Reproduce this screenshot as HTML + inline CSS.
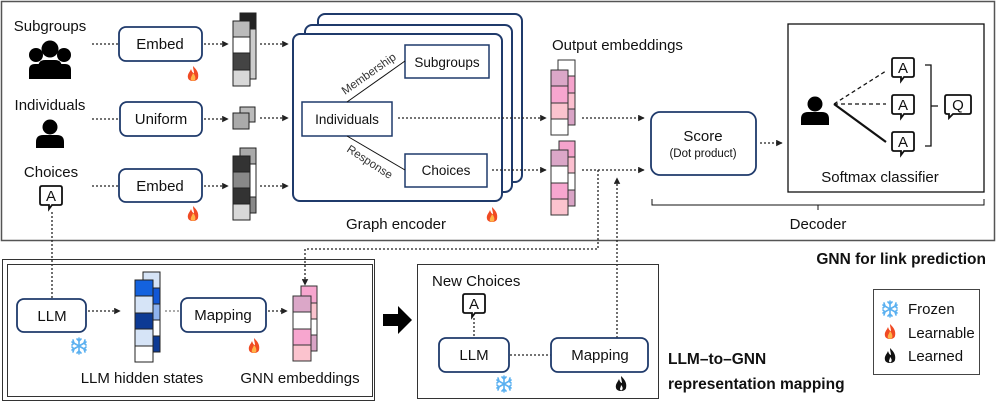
<!DOCTYPE html>
<html><head><meta charset="utf-8"><style>
html,body{margin:0;padding:0;background:#fff;}
svg{display:block;font-family:"Liberation Sans",sans-serif;}
</style></head><body>
<svg width="997" height="404" viewBox="0 0 997 404" xmlns="http://www.w3.org/2000/svg">
<defs>
<marker id="ah" viewBox="0 0 10 10" refX="9" refY="5" markerWidth="5" markerHeight="5" orient="auto"><path d="M0,0L10,5L0,10z" fill="#222"/></marker>
<g id="flame"><path d="M0,-9 C4,-5 6,-2 5,3 C4,7 -4,7 -5,3 C-6,-1 -3,-3 -2,-6 C-1,-3 0,-2 1,-2 C1,-4 0,-6 0,-9z" fill="#f04a23"/><path d="M0,-2 C2,0 3,3 2,5 C1,6 -1,6 -2,5 C-3,3 -1,1 0,-2z" fill="#ffb347"/></g>
<g id="bflame"><path d="M0,-9 C4,-5 6,-2 5,3 C4,7 -4,7 -5,3 C-6,-1 -3,-3 -2,-6 C-1,-3 0,-2 1,-2 C1,-4 0,-6 0,-9z" fill="#111"/><path d="M0,0 C2,2 2,4 1,5 C0,6 -1,5 -1,4 C-1,3 0,2 0,0z" fill="#fff"/></g>
<g id="snow" stroke="#5ab0f0" stroke-width="1.6" stroke-linecap="round"><path d="M0,-8V8M-7,-4L7,4M-7,4L7,-4"/><path d="M-2,-7L0,-5L2,-7M-2,7L0,5L2,7M-7,-1L-5,-3L-6,-6M7,1L5,3L6,6M-7,1L-5,3L-6,6M7,-1L5,-3L6,-6" fill="none"/></g>
<g id="bubA"><path d="M-9,-11H9Q11,-11 11,-9V6Q11,8 9,8H1L-2,12V8H-9Q-11,8 -11,6V-9Q-11,-11 -9,-11z" fill="#fff" stroke="#111" stroke-width="1.8"/><text x="0" y="4" font-size="15" text-anchor="middle" fill="#111">A</text></g>
<g id="person"><circle cx="0" cy="-8" r="7.5" fill="#000"/><path d="M-14,13V7Q-14,0 -7,0H7Q14,0 14,7V13z" fill="#000"/></g>
</defs>

<rect x="1.5" y="1.5" width="993" height="239" fill="none" stroke="#555" stroke-width="1.5"/>

<g font-size="15" fill="#111" text-anchor="middle">
<text x="50" y="31">Subgroups</text>
<text x="50" y="110">Individuals</text>
<text x="51" y="177">Choices</text>
</g>
<g fill="#000">
<circle cx="36" cy="55" r="7"/><circle cx="64" cy="55" r="7"/><circle cx="50" cy="49" r="8.5"/>
<path d="M29,79V70Q29,64 35,64H41V79z"/><path d="M59,79V64H65Q71,64 71,70V79z"/>
<path d="M38,79V68Q38,60 45,60H55Q62,60 62,68V79z"/>
</g>
<use href="#person" transform="translate(50,135)"/>
<use href="#bubA" transform="translate(51,197)"/>

<g stroke="#222" stroke-width="1.3" stroke-dasharray="2,2" fill="none">
<line x1="92" y1="44" x2="119" y2="44"/>
<line x1="92" y1="119" x2="120" y2="119"/>
<line x1="92" y1="186" x2="119" y2="186"/>
<line x1="204" y1="44" x2="228" y2="44" marker-end="url(#ah)"/>
<line x1="204" y1="119" x2="228" y2="119" marker-end="url(#ah)"/>
<line x1="204" y1="186" x2="228" y2="186" marker-end="url(#ah)"/>
<line x1="260" y1="44" x2="288" y2="44" marker-end="url(#ah)"/>
<line x1="260" y1="118" x2="288" y2="118" marker-end="url(#ah)"/>
<line x1="260" y1="186" x2="288" y2="186" marker-end="url(#ah)"/>
<line x1="52" y1="212" x2="52" y2="299"/>
</g>
<g fill="#fff" stroke="#1f3a6b" stroke-width="1.8">
<rect x="119" y="27" width="83" height="34" rx="7"/>
<rect x="120" y="102" width="82" height="34" rx="7"/>
<rect x="119" y="169" width="83" height="33" rx="7"/>
</g>
<g font-size="15" fill="#111" text-anchor="middle">
<text x="160" y="49">Embed</text><text x="161" y="124">Uniform</text><text x="160" y="191">Embed</text>
</g>
<use href="#flame" transform="translate(193,75)"/>
<use href="#flame" transform="translate(193,215)"/>

<g stroke="#222" stroke-width="1">
<rect x="240" y="13" width="16" height="66" fill="#ccc"/>
<rect x="240" y="13" width="16" height="16" fill="#222"/>
<rect x="233" y="21" width="17" height="16" fill="#bbb"/>
<rect x="233" y="37" width="17" height="16" fill="#fff"/>
<rect x="233" y="53" width="17" height="17" fill="#444"/>
<rect x="233" y="70" width="17" height="16" fill="#d8d8d8"/>
<rect x="240" y="107" width="15" height="15" fill="#bbb"/>
<rect x="233" y="113" width="16" height="16" fill="#aaa"/>
<rect x="240" y="148" width="16" height="65" fill="#fff"/>
<rect x="240" y="148" width="16" height="16" fill="#aaa"/>
<rect x="240" y="197" width="16" height="16" fill="#888"/>
<rect x="233" y="156" width="17" height="16" fill="#333"/>
<rect x="233" y="172" width="17" height="16" fill="#888"/>
<rect x="233" y="188" width="17" height="16" fill="#333"/>
<rect x="233" y="204" width="17" height="16" fill="#d8d8d8"/>
</g>

<g fill="#fff" stroke="#1f3a6b" stroke-width="2">
<rect x="318" y="14" width="204" height="168" rx="7"/>
<rect x="305" y="25" width="207" height="167" rx="7"/>
<rect x="293" y="34" width="209" height="167" rx="7"/>
</g>
<g fill="#fff" stroke="#1f3a6b" stroke-width="1.5">
<rect x="405" y="45" width="84" height="33"/>
<rect x="302" y="102" width="90" height="34"/>
<rect x="405" y="154" width="82" height="33"/>
</g>
<g stroke="#111" stroke-width="1"><line x1="347" y1="102" x2="405" y2="61"/><line x1="347" y1="136" x2="405" y2="170"/></g>
<g font-size="13.5" fill="#111" text-anchor="middle">
<text x="447" y="67">Subgroups</text><text x="347" y="124">Individuals</text><text x="446" y="175">Choices</text>
</g>
<g font-size="11.5" fill="#333">
<text transform="translate(345,95) rotate(-35)">Membership</text>
<text transform="translate(346,151) rotate(33)">Response</text>
</g>
<text x="396" y="229" font-size="15" fill="#111" text-anchor="middle">Graph encoder</text>
<use href="#flame" transform="translate(492,216)"/>

<g stroke="#222" stroke-width="1.3" stroke-dasharray="2,2" fill="none">
<line x1="398" y1="118" x2="546" y2="118" marker-end="url(#ah)"/>
<line x1="492" y1="170" x2="546" y2="170" marker-end="url(#ah)"/>
<line x1="582" y1="118" x2="644" y2="118" marker-end="url(#ah)"/>
<line x1="582" y1="170" x2="644" y2="170" marker-end="url(#ah)"/>
<line x1="760" y1="143" x2="782" y2="143" marker-end="url(#ah)"/>
<polyline points="598,170 598,249 305,249 305,285" marker-end="url(#ah)"/>
<line x1="617" y1="338" x2="617" y2="178" marker-end="url(#ah)"/>
</g>

<text x="552" y="50" font-size="15" fill="#111">Output embeddings</text>
<g stroke="#333" stroke-width="1">
<rect x="558" y="60" width="17" height="65" fill="#fff"/>
<rect x="558" y="76" width="17" height="17" fill="#f5a3cc"/>
<rect x="558" y="93" width="17" height="16" fill="#fbbfcf"/>
<rect x="558" y="109" width="17" height="16" fill="#d9a4c6"/>
<rect x="551" y="70" width="17" height="16" fill="#dba7c8"/>
<rect x="551" y="86" width="17" height="17" fill="#f7a6cf"/>
<rect x="551" y="103" width="17" height="16" fill="#fbc3ce"/>
<rect x="551" y="119" width="17" height="16" fill="#fff"/>
<rect x="559" y="141" width="16" height="65" fill="#fff"/>
<rect x="559" y="141" width="16" height="16" fill="#f5a3cc"/>
<rect x="559" y="157" width="16" height="16" fill="#fbbfcf"/>
<rect x="559" y="190" width="16" height="16" fill="#d9a4c6"/>
<rect x="551" y="150" width="17" height="16" fill="#dba7c8"/>
<rect x="551" y="166" width="17" height="17" fill="#fff"/>
<rect x="551" y="183" width="17" height="16" fill="#f7a6cf"/>
<rect x="551" y="199" width="17" height="16" fill="#fbc3ce"/>
</g>

<rect x="651" y="112" width="105" height="63" rx="9" fill="#fff" stroke="#1f3a6b" stroke-width="1.8"/>
<text x="703" y="141" font-size="15" fill="#111" text-anchor="middle">Score</text>
<text x="703" y="157" font-size="11.5" fill="#111" text-anchor="middle">(Dot product)</text>

<rect x="788" y="24" width="196" height="168" fill="#fff" stroke="#111" stroke-width="1.3"/>
<use href="#person" transform="translate(815,112)"/>
<g stroke="#111" stroke-width="1.3">
<line x1="834" y1="104" x2="886" y2="71" stroke-dasharray="4,3"/>
<line x1="834" y1="104" x2="886" y2="104" stroke-dasharray="4,3"/>
<line x1="834" y1="104" x2="886" y2="142" stroke-width="2.2"/>
<path d="M925,65H931V146H925M931,106H938" fill="none"/>
</g>
<use href="#bubA" transform="translate(903,69)"/>
<use href="#bubA" transform="translate(903,106)"/>
<use href="#bubA" transform="translate(903,143)"/>
<g transform="translate(958,106)"><path d="M-11,-11H11Q13,-11 13,-9V6Q13,8 11,8H-5L-9,12V8H-11Q-13,8 -13,6V-9Q-13,-11 -11,-11z" fill="#fff" stroke="#111" stroke-width="1.8"/><text x="0" y="4" font-size="15" text-anchor="middle" fill="#111">Q</text></g>
<text x="880" y="182" font-size="15" fill="#111" text-anchor="middle">Softmax classifier</text>
<path d="M652,199V205H984V199M818,205V210" fill="none" stroke="#111" stroke-width="1"/>
<text x="818" y="229" font-size="15" fill="#111" text-anchor="middle">Decoder</text>

<text x="986" y="264" font-size="15.5" font-weight="bold" fill="#111" text-anchor="end">GNN for link prediction</text>

<rect x="2.5" y="259.5" width="372" height="141" fill="none" stroke="#333" stroke-width="1"/>
<rect x="7.5" y="264.5" width="365" height="132" fill="none" stroke="#333" stroke-width="1"/>
<rect x="17" y="299" width="69" height="33" rx="7" fill="#fff" stroke="#1f3a6b" stroke-width="1.8"/>
<text x="52" y="321" font-size="15" fill="#111" text-anchor="middle">LLM</text>
<use href="#snow" transform="translate(79,346)"/>
<g stroke="#222" stroke-width="1.3" stroke-dasharray="2,2" fill="none">
<line x1="88" y1="311" x2="120" y2="311" marker-end="url(#ah)"/>
<line x1="165" y1="311" x2="181" y2="311" stroke-width="0.8"/>
<line x1="268" y1="311" x2="287" y2="311" marker-end="url(#ah)"/>
</g>
<g stroke="#222" stroke-width="1">
<rect x="143" y="272" width="17" height="80" fill="#d6e4f7"/>
<rect x="143" y="288" width="17" height="16" fill="#1257d6"/>
<rect x="143" y="304" width="17" height="16" fill="#8fb3ee"/>
<rect x="143" y="320" width="17" height="16" fill="#fff"/>
<rect x="143" y="336" width="17" height="16" fill="#0d3a94"/>
<rect x="135" y="280" width="18" height="16" fill="#1462de"/>
<rect x="135" y="296" width="18" height="17" fill="#d6e4f7"/>
<rect x="135" y="313" width="18" height="16" fill="#0d3a94"/>
<rect x="135" y="329" width="18" height="17" fill="#d6e4f7"/>
<rect x="135" y="346" width="18" height="16" fill="#fff"/>
</g>
<rect x="181" y="298" width="85" height="34" rx="7" fill="#fff" stroke="#1f3a6b" stroke-width="1.8"/>
<text x="223" y="320" font-size="15" fill="#111" text-anchor="middle">Mapping</text>
<use href="#flame" transform="translate(254,347)"/>
<g stroke="#333" stroke-width="1">
<rect x="301" y="286" width="16" height="65" fill="#fff"/>
<rect x="301" y="286" width="16" height="17" fill="#f7a6cf"/>
<rect x="301" y="303" width="16" height="16" fill="#fbc3ce"/>
<rect x="301" y="335" width="16" height="16" fill="#d9a4c6"/>
<rect x="293" y="296" width="18" height="16" fill="#dba7c8"/>
<rect x="293" y="312" width="18" height="17" fill="#fff"/>
<rect x="293" y="329" width="18" height="16" fill="#f7a6cf"/>
<rect x="293" y="345" width="18" height="16" fill="#fbc3ce"/>
</g>
<g font-size="15" fill="#111" text-anchor="middle">
<text x="142" y="383">LLM hidden states</text><text x="300" y="383">GNN embeddings</text>
</g>

<path d="M383,314H398V306L412,320L398,334V326H383z" fill="#000"/>

<rect x="417.5" y="264.5" width="241" height="134" fill="none" stroke="#333" stroke-width="1"/>
<text x="432" y="286" font-size="15" fill="#111">New Choices</text>
<use href="#bubA" transform="translate(474,305)"/>
<g stroke="#222" stroke-width="1.3" stroke-dasharray="2,2" fill="none">
<line x1="474" y1="318" x2="474" y2="338"/>
<line x1="510" y1="355" x2="551" y2="355"/>
</g>
<rect x="439" y="338" width="70" height="34" rx="7" fill="#fff" stroke="#1f3a6b" stroke-width="1.8"/>
<text x="474" y="360" font-size="15" fill="#111" text-anchor="middle">LLM</text>
<use href="#snow" transform="translate(504,384)"/>
<rect x="551" y="338" width="97" height="34" rx="7" fill="#fff" stroke="#1f3a6b" stroke-width="1.8"/>
<text x="600" y="360" font-size="15" fill="#111" text-anchor="middle">Mapping</text>
<use href="#bflame" transform="translate(621,385)"/>

<g font-size="15.5" font-weight="bold" fill="#111">
<text x="668" y="364">LLM–to–GNN</text>
<text x="668" y="389">representation mapping</text>
</g>

<rect x="873.5" y="289.5" width="106" height="85" fill="#fff" stroke="#444" stroke-width="1"/>
<use href="#snow" transform="translate(890,309)"/>
<use href="#flame" transform="translate(890,333)"/>
<use href="#bflame" transform="translate(890,357)"/>
<g font-size="15" fill="#111">
<text x="908" y="314">Frozen</text><text x="908" y="338">Learnable</text><text x="908" y="361">Learned</text>
</g>
</svg>
</body></html>
